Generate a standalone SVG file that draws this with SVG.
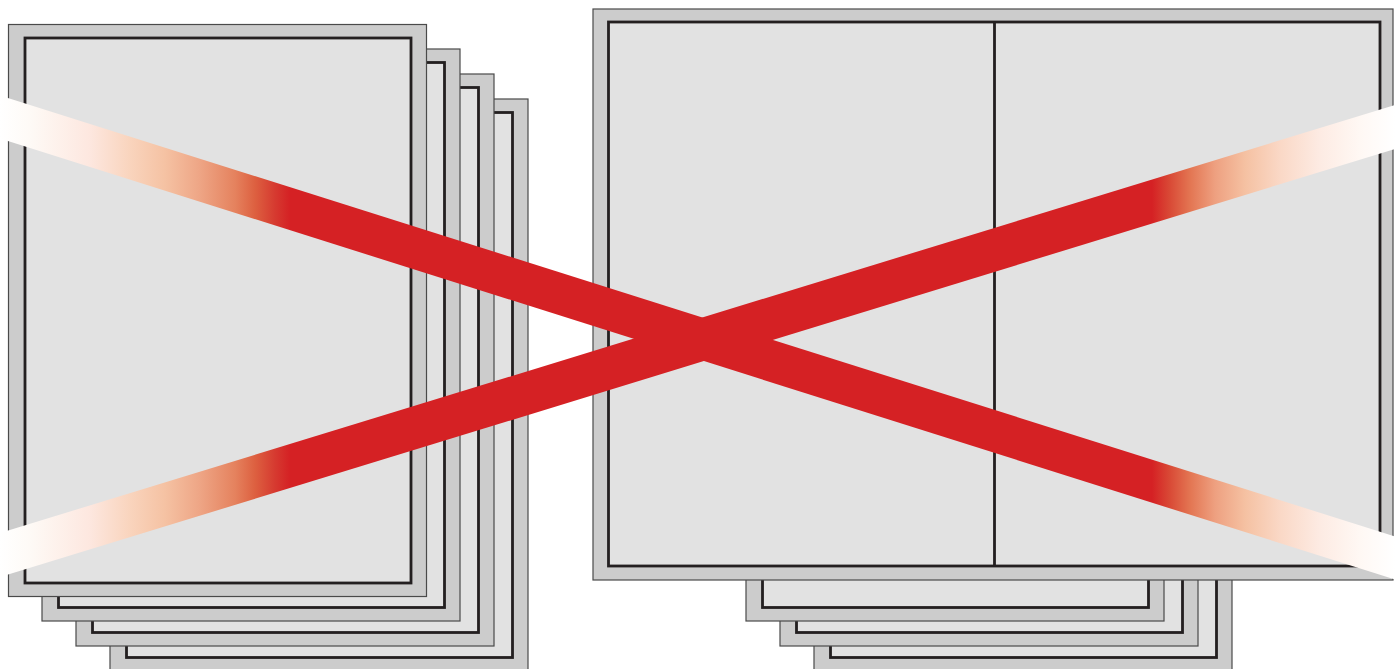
<svg xmlns="http://www.w3.org/2000/svg" xmlns:xlink="http://www.w3.org/1999/xlink" width="1395" height="669" viewBox="0 0 1395 669">
  <defs>
    <style>
      .outer { fill: #cccccc; stroke: #4a4a4a; stroke-width: 1.2; }
      .inner { fill: #e2e2e2; stroke: #231f20; stroke-width: 2.8; }
      .divider { stroke: #231f20; stroke-width: 2.8; fill: none; }
      .band { fill: url(#fade); stroke: none; }
    </style>
    <g id="sheet">
      <rect class="outer" x="0" y="0" width="418" height="572"/>
      <rect class="inner" x="16.5" y="13.5" width="386" height="545"/>
    </g>
    <linearGradient id="fade" gradientUnits="userSpaceOnUse" x1="0" y1="0" x2="1395" y2="0">
      <stop offset="0" stop-color="#ffffff"/>
      <stop offset="0.0215" stop-color="#fefaf6"/>
      <stop offset="0.0645" stop-color="#fde7df"/>
      <stop offset="0.0932" stop-color="#f9d4bd"/>
      <stop offset="0.1183" stop-color="#f5c2a3"/>
      <stop offset="0.1434" stop-color="#eea585"/>
      <stop offset="0.1685" stop-color="#e5825e"/>
      <stop offset="0.1828" stop-color="#dd6040"/>
      <stop offset="0.1971" stop-color="#d63a30"/>
      <stop offset="0.2079" stop-color="#d52124"/>
      <stop offset="0.8258" stop-color="#d52124"/>
      <stop offset="0.8387" stop-color="#d94a36"/>
      <stop offset="0.853" stop-color="#e37552"/>
      <stop offset="0.871" stop-color="#eea080"/>
      <stop offset="0.8925" stop-color="#f5c1a2"/>
      <stop offset="0.9176" stop-color="#fad8c6"/>
      <stop offset="0.9462" stop-color="#fdebe3"/>
      <stop offset="0.9749" stop-color="#fff8f4"/>
      <stop offset="1" stop-color="#ffffff"/>
    </linearGradient>
  </defs>
  <rect x="0" y="0" width="1395" height="669" fill="#ffffff"/>

  <g id="left-stack">
    <g id="left-sheet-4"><use xlink:href="#sheet" href="#sheet" transform="translate(110,99)"/></g>
    <g id="left-sheet-3"><use xlink:href="#sheet" href="#sheet" transform="translate(76,74)"/></g>
    <g id="left-sheet-2"><use xlink:href="#sheet" href="#sheet" transform="translate(42,49)"/></g>
    <g id="left-sheet-1"><use xlink:href="#sheet" href="#sheet" transform="translate(8.5,24.5)"/></g>
  </g>

  <g id="right-stack">
    <g id="right-sheet-4"><use xlink:href="#sheet" href="#sheet" transform="translate(814,99)"/></g>
    <g id="right-sheet-3"><use xlink:href="#sheet" href="#sheet" transform="translate(780,74)"/></g>
    <g id="right-sheet-2"><use xlink:href="#sheet" href="#sheet" transform="translate(746,49)"/></g>
    <g id="spread">
      <rect class="outer" x="593" y="9" width="800" height="571"/>
      <rect class="inner" x="608.5" y="22" width="771.5" height="544"/>
      <line class="divider" x1="994.5" y1="22" x2="994.5" y2="566"/>
    </g>
  </g>

  <g id="cross">
    <polygon class="band" points="0,95.5 1395,536.5 1395,579.5 0,138.5"/>
    <polygon class="band" points="0,533 1395,105 1395,149 0,577"/>
  </g>
</svg>
